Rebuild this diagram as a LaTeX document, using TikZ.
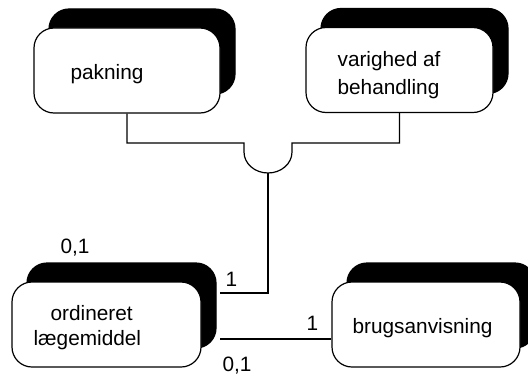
\documentclass[tikz,border=0pt]{standalone}
\usepackage{fontspec}
\setmainfont{Liberation Sans}
\usetikzlibrary{shadows}
\begin{document}
\begin{tikzpicture}[x=1bp,y=1bp,line width=1.2bp,
  ent/.style={draw=black,fill=white,rounded corners=20bp,inner sep=0pt,
    minimum height=85bp,
    general shadow={fill=black,draw=black,shadow xshift=15bp,shadow yshift=19bp}},
  txt/.style={anchor=base west,inner sep=0pt,font=\fontsize{20.8bp}{25bp}\selectfont},
  conn/.style={draw=black,line width=1.2bp}]
\useasboundingbox (0,0) rectangle (528,374);
% entity boxes
\node[ent,minimum width=186bp] (pak) at (127,303.5) {};
\node[ent,minimum width=187bp] (var) at (399.5,304) {};
\node[ent,minimum width=189bp] (ord) at (106.5,49.5) {};
\node[ent,minimum width=188bp] (brug) at (426,49.5) {};
% texts
\node[txt] (tpak) at (70,295) {pakning};
\node[txt] (tvar1) at (337,308) {varighed af};
\node[txt] (tvar2) at (337,280) {behandling};
\node[txt] (tord1) at (50,54) {ordineret};
\node[txt] (tord2) at (33,29) {lægemiddel};
\node[txt] (tbrug) at (352,41) {brugsanvisning};
% cardinalities
\node[txt] (c1) at (60,121) {0,1};
\node[txt] (c2) at (225,88) {1};
\node[txt] (c3) at (306,44) {1};
\node[txt] (c4) at (222,3) {0,1};
% connector coordinates
\coordinate (hl) at (244,231);
\coordinate (hr) at (292,231);
\coordinate (hb) at (268,201);
\coordinate (knee) at (268,81);
\coordinate (oe1) at (220,81);
\coordinate (oe2) at (220,35);
% connectors
\draw[conn] (pak.south) |- (hl) -- ++(0,-9) arc[start angle=180,end angle=360,x radius=24,y radius=21] -- (hr) -| (var.south);
\draw[conn] (hb) -- (knee) -- (oe1);
\draw[conn] (oe2) -- (brug.west |- oe2);
\end{tikzpicture}
\end{document}
